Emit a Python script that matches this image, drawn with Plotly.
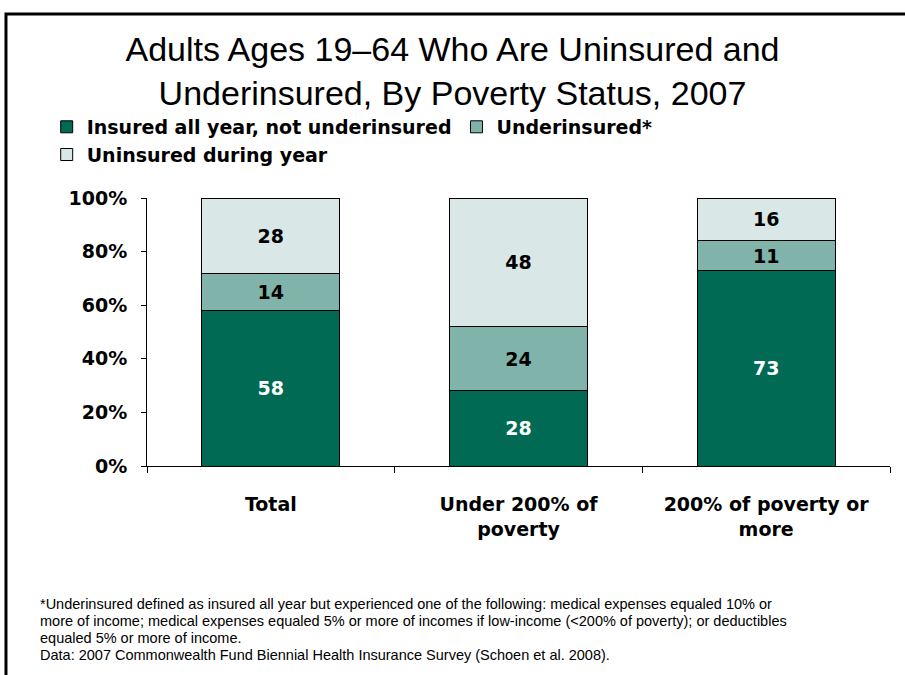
import plotly.graph_objects as go

categories = ["Total", "Under 200% of<br>poverty", "200% of poverty or<br>more"]
insured = [58, 28, 73]
underinsured = [14, 24, 11]
uninsured = [28, 48, 16]
series_names = ["Insured all year, not underinsured", "Underinsured*", "Uninsured during year"]
colors = ["#006A55", "#80B3AA", "#D9E7E6"]
text_colors = ["white", "black", "black"]
y_ticks = [0, 20, 40, 60, 80, 100]
y_tick_labels = ["0%", "20%", "40%", "60%", "80%", "100%"]

title_text = "Adults Ages 19\u201364 Who Are Uninsured and<br>Underinsured, By Poverty Status, 2007"
footnote_lines = [
    "*Underinsured defined as insured all year but experienced one of the following: medical expenses equaled 10% or",
    "more of income; medical expenses equaled 5% or more of incomes if low-income (&lt;200% of poverty); or deductibles",
    "equaled 5% or more of income.",
    "Data: 2007 Commonwealth Fund Biennial Health Insurance Survey (Schoen et al. 2008).",
]

BOLD = "DejaVu Sans"
fig = go.Figure()
for name, vals, col, tc in zip(series_names, [insured, underinsured, uninsured], colors, text_colors):
    fig.add_trace(go.Bar(
        x=categories, y=vals, name=name,
        marker=dict(color=col, line=dict(color="black", width=1)),
        text=[str(v) for v in vals], textposition="inside", insidetextanchor="middle",
        textfont=dict(family=BOLD, size=19, color=tc, weight="bold"),
        width=0.557,
    ))

PLOT_TOP, PLOT_BOTTOM = 198, 466
fig.update_layout(
    barmode="stack",
    width=905, height=675,
    paper_bgcolor="white", plot_bgcolor="white",
    margin=dict(l=147, r=15, t=PLOT_TOP, b=675 - PLOT_BOTTOM, autoexpand=False),
    title=dict(text=title_text, x=0.5, xanchor="center", y=0.91, yanchor="top",
               font=dict(family="Liberation Sans", size=34, color="black")),
    legend=dict(orientation="h", xref="paper", yref="paper", x=-0.135, xanchor="left",
                y=1.336, yanchor="top", traceorder="normal",
                font=dict(family=BOLD, size=19, color="black", weight="bold"),
                tracegroupgap=0),
    showlegend=True,
    uniformtext=dict(mode=False),
)
fig.update_yaxes(range=[0, 100], tickvals=y_ticks, ticktext=y_tick_labels, automargin=False,
                 showgrid=False, showline=True, linecolor="black", linewidth=1,
                 ticks="outside", ticklen=5, tickcolor="black", ticklabelstandoff=10,
                 tickfont=dict(family=BOLD, size=19, color="black", weight="bold"))
fig.update_xaxes(showgrid=False, showline=True, linecolor="black", linewidth=1, automargin=False,
                 ticks="outside", ticklen=6, tickcolor="black", tickson="boundaries",
                 ticklabelstandoff=21,
                 tickfont=dict(family=BOLD, size=19, color="black", weight="bold"))

plot_h = PLOT_BOTTOM - PLOT_TOP
for i, line in enumerate(footnote_lines):
    fig.add_annotation(text=line, xref="paper", yref="paper", x=-0.1467,
                       y=(PLOT_BOTTOM - (604 + 17 * i)) / plot_h,
                       xanchor="left", yanchor="middle", align="left", showarrow=False,
                       font=dict(family="Liberation Sans", size=14.5, color="black"))

fig.add_shape(type="rect", xref="paper", yref="paper", x0=-0.1898, x1=1.05, y0=-0.9, y1=1.6866,
              line=dict(color="black", width=3), fillcolor="rgba(0,0,0,0)", layer="above")

fig.write_html("out.html", config={"displayModeBar": False},
               post_script="document.body.style.margin='0';")
